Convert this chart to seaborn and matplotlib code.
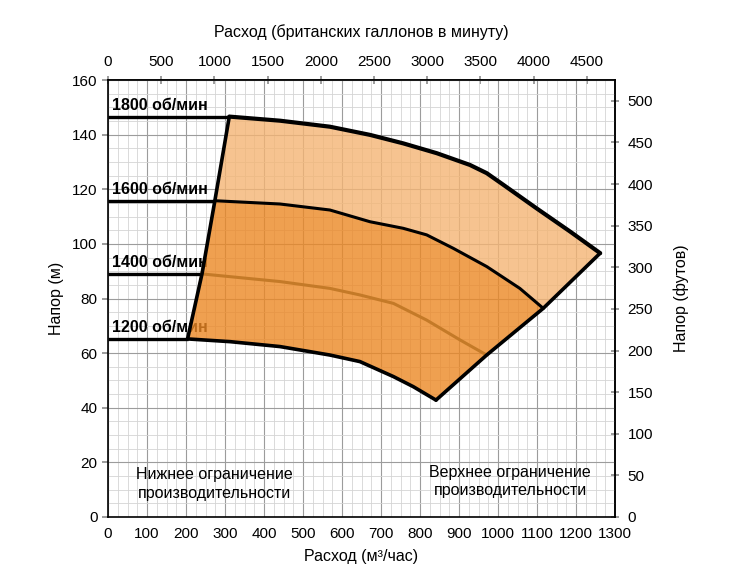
import numpy as np
import pandas as pd
import seaborn as sns
import matplotlib.pyplot as plt

# Pump curves: flow (m3/h) and head (m)
q_1800 = [311, 441, 569, 672, 757, 843, 928, 971, 1014, 1099, 1185, 1262]
h_1800 = [146.6, 145.1, 142.9, 139.9, 136.8, 133.2, 128.9, 125.9, 121.6, 113.0, 104.5, 96.6]

q_1600 = [274, 441, 569, 672, 757, 817, 885, 971, 1056, 1116]
h_1600 = [115.8, 114.6, 112.4, 108.1, 105.7, 103.3, 98.4, 91.7, 83.7, 76.4]

q_1400 = [241, 441, 569, 646, 732, 817, 903, 971]
h_1400 = [89.0, 86.2, 83.7, 81.3, 78.2, 72.1, 64.8, 59.3]

q_1200 = [204, 313, 441, 569, 646, 732, 783, 841]
h_1200 = [65.2, 64.2, 62.4, 59.3, 56.9, 51.4, 47.7, 42.8]

speeds = ['1200 об/мин', '1400 об/мин', '1600 об/мин', '1800 об/мин']
shutoff_head = [65.2, 89.0, 115.8, 146.6]

# flow/head conversions for the secondary axes
m3h_to_igpm = 1000 / 4.54609 / 60
m_to_ft = 3.28084

sns.set_theme(style='white')
plt.rcParams['font.family'] = ['Liberation Sans', 'DejaVu Sans']
plt.rcParams['text.color'] = 'black'
plt.rcParams['axes.labelcolor'] = 'black'
plt.rcParams['xtick.color'] = 'black'
plt.rcParams['ytick.color'] = 'black'

fig = plt.figure(figsize=(7.29, 5.78), dpi=100)
ax = fig.add_axes([108 / 729, 1 - 517 / 578, 507 / 729, 437 / 578])

# operating envelope
light_q = q_1800 + q_1600[::-1]
light_h = h_1800 + h_1600[::-1]
dark_q = q_1600 + q_1200[::-1]
dark_h = h_1600 + h_1200[::-1]
ax.fill(light_q, light_h, color='#F4B574', alpha=0.8, lw=0, zorder=2)
ax.fill(dark_q, dark_h, color='#EC8824', alpha=0.8, lw=0, zorder=2)

# shut-off horizontals
for q0, h0 in zip([q_1200[0], q_1400[0], q_1600[0], q_1800[0]], shutoff_head):
    ax.plot([0, q0], [h0, h0], color='black', lw=2.4, zorder=3, solid_capstyle='butt')

curves = pd.DataFrame({
    'q': q_1800 + q_1600 + q_1200,
    'h': h_1800 + h_1600 + h_1200,
    'rpm': ['1800'] * len(q_1800) + ['1600'] * len(q_1600) + ['1200'] * len(q_1200),
})
sns.lineplot(data=curves[curves.rpm == '1800'], x='q', y='h', sort=False,
             color='black', lw=3.0, ax=ax, zorder=4)
sns.lineplot(data=curves[curves.rpm == '1600'], x='q', y='h', sort=False,
             color='black', lw=2.2, ax=ax, zorder=4)
sns.lineplot(data=curves[curves.rpm == '1200'], x='q', y='h', sort=False,
             color='black', lw=2.6, ax=ax, zorder=4)
sns.lineplot(x=q_1400, y=h_1400, sort=False, color='#C47A28', lw=2.2,
             ax=ax, zorder=4)

# lower and upper limits
ax.plot([q_1200[0], q_1400[0], q_1600[0], q_1800[0]],
        [h_1200[0], h_1400[0], h_1600[0], h_1800[0]],
        color='black', lw=2.6, zorder=5)
ax.plot([q_1200[-1], q_1400[-1], q_1600[-1], q_1800[-1]],
        [h_1200[-1], h_1400[-1], h_1600[-1], h_1800[-1]],
        color='black', lw=2.6, zorder=5)

# speed labels
for lab, h0 in zip(speeds, shutoff_head):
    ax.text(10, h0 + 1.5, lab, fontsize=11.5, fontweight='bold', ha='left',
            va='bottom', zorder=1)

ax.text(274, 12, 'Нижнее ограничение\nпроизводительности', fontsize=11.5,
        ha='center', va='center', linespacing=1.3)
ax.text(1031, 13, 'Верхнее ограничение\nпроизводительности', fontsize=11.5,
        ha='center', va='center', linespacing=1.3)

ax.set_xlim(0, 1300)
ax.set_ylim(0, 160)
ax.set_xticks(np.arange(0, 1301, 100))
ax.set_xticks(np.arange(0, 1301, 25), minor=True)
ax.set_yticks(np.arange(0, 161, 20))
ax.set_yticks(np.arange(0, 161, 5), minor=True)
ax.grid(which='major', color='#9c9c9c', lw=0.8, zorder=0)
ax.grid(which='minor', color='#d4d4d4', lw=0.6, zorder=0)
ax.set_axisbelow(True)
ax.tick_params(axis='x', which='both', length=0, labelsize=11, pad=7)
ax.tick_params(axis='y', which='major', length=4, color='#909090',
               direction='out', labelsize=11, left=True)
ax.tick_params(axis='y', which='minor', length=0)
for s in ax.spines.values():
    s.set_color('black')
    s.set_linewidth(1.2)

ax.set_xlabel('Расход (м³/час)', fontsize=11.5, labelpad=6)
ax.set_ylabel('Напор (м)', fontsize=11.5, labelpad=6)

top = ax.secondary_xaxis('top', functions=(lambda x: x * m3h_to_igpm,
                                             lambda x: x / m3h_to_igpm))
top.set_xticks(np.arange(0, 4501, 500))
top.tick_params(length=6, direction='inout', color='#909090', labelsize=11, pad=5)
top.set_xlabel('Расход (британских галлонов в минуту)', fontsize=11.5, labelpad=13)

right = ax.secondary_yaxis('right', functions=(lambda y: y * m_to_ft,
                                               lambda y: y / m_to_ft))
right.set_yticks(np.arange(0, 501, 50))
right.tick_params(length=6, direction='inout', color='#909090', labelsize=11, pad=6)
right.set_ylabel('Напор (футов)', fontsize=11.5, labelpad=15)

fig.savefig('out.png', dpi=100)
